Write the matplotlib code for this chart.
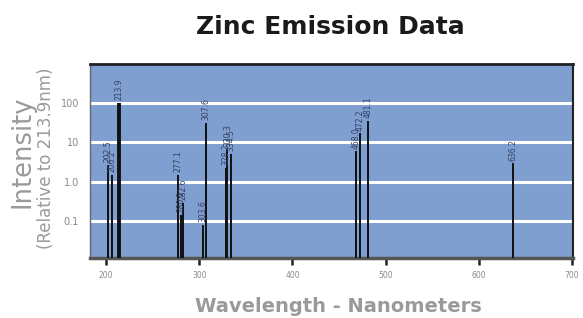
import matplotlib
matplotlib.use("Agg")
import matplotlib.pyplot as plt

wavelengths = [202.5, 206.2, 213.9, 277.1, 280.1, 282.6, 303.6, 307.6,
               328.2, 330.3, 334.5, 468.0, 472.2, 481.1, 636.2]
intensity = [2.7, 1.5, 100, 1.5, 0.14, 0.29, 0.08, 32,
             2.2, 6.9, 5.0, 5.9, 17, 35, 2.9]
labels = ["202.5", "206.2", "213.9", "277.1", "280.1", "282.6", "303.6", "307.6",
          "328.2", "330.3", "334.5", "468.0", "472.2", "481.1", "636.2"]
xticks = [200, 300, 400, 500, 600, 700]
yticks = [0.1, 1, 10, 100]
ytick_labels = ["0.1", "1.0", "10", "100"]

fig = plt.figure(figsize=(5.83, 3.18), dpi=100)
ax = fig.add_axes([90/583, 60/318, 483/583, 194/318])
ax.set_facecolor("#7f9fd1")
ax.set_yscale("log")
ybottom = 0.0112
ax.set_xlim(182.8, 701)
ax.set_ylim(ybottom, 1000)

for yv in yticks:
    ax.axhline(yv, color="white", lw=2.2, zorder=1)

widths = [1.4 if l != "213.9" else 2.8 for l in labels]
ax.vlines(wavelengths, ybottom, intensity, colors="#111111", linewidths=widths, zorder=3)
for x, y, l in zip(wavelengths, intensity, labels):
    ax.annotate(l, (x, y), xytext=(0, 2), textcoords="offset points",
                rotation=90, ha="center", va="bottom", fontsize=5.5,
                color="#34405e", zorder=4)

ax.set_xticks(xticks)
ax.set_xticklabels([str(t) for t in xticks], fontsize=5.5, color="#8a8a8a")
ax.set_yticks(yticks)
ax.set_yticklabels(ytick_labels, fontsize=7, color="#8a8a8a")
ax.minorticks_off()
ax.tick_params(axis="x", direction="out", length=5, width=1.8, color="#222222", pad=4)
ax.tick_params(axis="y", length=0, pad=8)

for side in ["top", "right"]:
    ax.spines[side].set_color("#222222")
ax.spines["top"].set_linewidth(2)
ax.spines["right"].set_linewidth(1.5)
ax.spines["left"].set_linewidth(1)
ax.spines["left"].set_color("#666666")
ax.spines["bottom"].set_color("#555555")
ax.spines["bottom"].set_linewidth(2.5)

fig.text(330/583, 1 - 27/318, "Zinc Emission Data", ha="center", va="center",
         fontsize=18, fontweight="heavy", color="#1a1a1a")
fig.text(338/583, 1 - 306/318, "Wavelength - Nanometers", ha="center", va="center",
         fontsize=14, fontweight="bold", color="#9a9a9a")
fig.text(22/583, 1 - 152/318, "Intensity", ha="center", va="center",
         rotation=90, fontsize=18.5, color="#9a9a9a")
fig.text(46/583, 1 - 158/318, "(Relative to 213.9nm)", ha="center", va="center",
         rotation=90, fontsize=12, color="#9a9a9a")

fig.savefig("out.png", dpi=100)
